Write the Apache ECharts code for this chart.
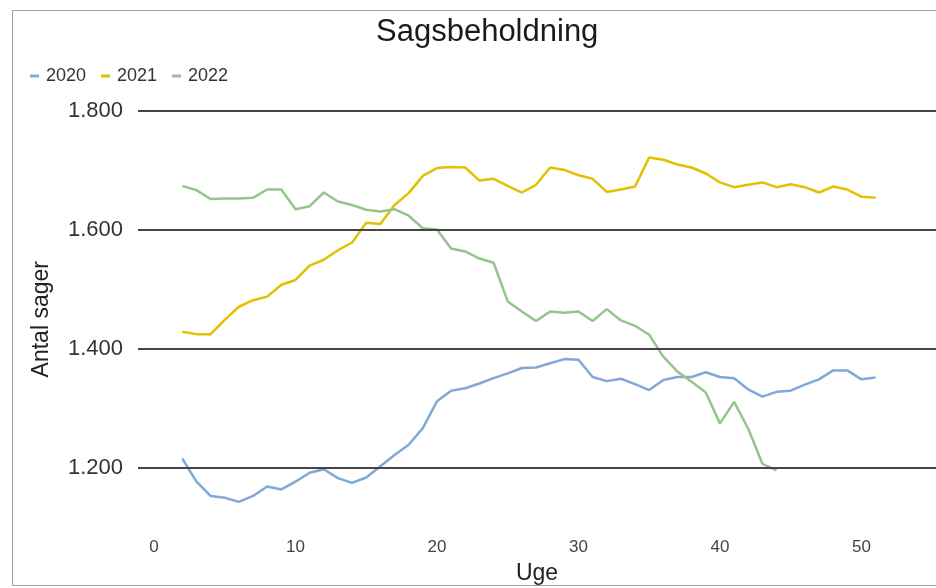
<!DOCTYPE html>
<html>
<head>
<meta charset="utf-8">
<script src="https://cdn.jsdelivr.net/npm/echarts@6/dist/echarts.min.js"></script>
<style>html,body{margin:0;padding:0;background:#fff}#c{width:936px;height:588px}</style>
</head>
<body>
<div id="c"></div>
<script>
const weeks = [2,3,4,5,6,7,8,9,10,11,12,13,14,15,16,17,18,19,20,21,22,23,24,25,26,27,28,29,30,31,32,33,34,35,36,37,38,39,40,41,42,43,44,45,46,47,48,49,50,51];
const v2020 = [1216,1177,1153,1150,1143,1153,1169,1164,1177,1192,1198,1183,1175,1184,1203,1222,1239,1267,1312,1330,1334,1342,1351,1359,1368,1369,1376,1383,1382,1353,1346,1350,1341,1331,1348,1353,1353,1361,1353,1351,1332,1320,1328,1330,1340,1349,1364,1364,1349,1352];
const v2021 = [1429,1425,1425,1449,1471,1482,1488,1508,1516,1540,1550,1566,1579,1612,1610,1642,1662,1691,1704,1706,1705,1683,1686,1674,1663,1676,1705,1701,1692,1686,1664,1668,1673,1722,1718,1710,1705,1695,1680,1672,1676,1680,1672,1677,1672,1663,1673,1668,1656,1654];
const v2022 = [1674,1667,1652,1653,1653,1654,1668,1668,1635,1640,1663,1648,1642,1634,1631,1635,1624,1603,1601,1569,1564,1552,1545,1480,1463,1447,1463,1461,1463,1447,1467,1448,1439,1424,1387,1362,1345,1327,1275,1311,1266,1207,1196];
const yTicks = [1200,1400,1600,1800];
const xTicks = [0,10,20,30,40,50];
const seriesNames = ['2020','2021','2022'];
const colors = ['#82a8d8','#e3c000','#96c48e'];

const pair = vals => vals.map((v,i)=>[weeks[i], v]);
const font = 'Liberation Sans, Arial, sans-serif';

const chart = echarts.init(document.getElementById('c'));
chart.setOption({
  animation:false,
  backgroundColor:'#fff',
  textStyle:{fontFamily:font},
  title:{text:'Sagsbeholdning', left:376, top:17, padding:0,
    textStyle:{fontSize:31, fontWeight:'normal', color:'#1a1a1a', fontFamily:font}},
  legend:{left:30, top:67, padding:0, itemWidth:9, itemHeight:3, itemGap:15, icon:'rect',
    data:seriesNames, textStyle:{fontSize:18, color:'#333', padding:[0,0,0,2]}},
  grid:{left:138, right:0, top:111, bottom:60.5, outerBoundsMode:'none', containLabel:false},
  xAxis:{type:'value', min:-1.13, max:55.27,
    name:'Uge', nameLocation:'middle', nameGap:35,
    nameTextStyle:{fontSize:23, color:'#222'},
    axisLine:{show:false}, axisTick:{show:false}, splitLine:{show:false},
    axisLabel:{customValues:xTicks, fontSize:17, color:'#444', margin:11}},
  yAxis:{type:'value', min:1100, max:1800, interval:100,
    name:'Antal sager', nameLocation:'middle', nameGap:85, nameRotate:90,
    nameTextStyle:{fontSize:23, color:'#222'},
    axisLine:{show:false}, axisTick:{show:false}, splitLine:{show:false},
    axisLabel:{fontSize:22, color:'#333', margin:15,
      formatter: v => yTicks.includes(v) ? (v/1000).toFixed(3) : ''}},
  graphic:[{type:'rect', shape:{x:12.5, y:10.5, width:1000, height:575},
    style:{fill:'none', stroke:'#a0a0a0', lineWidth:1}, silent:true, z:-1}],
  series:[
    {type:'line', name:'_grid', data:[], z:1, silent:true,
      markLine:{silent:true, symbol:'none', label:{show:false},
        lineStyle:{color:'#454545', width:1.8, type:'solid'},
        data: yTicks.map(v=>({yAxis:v}))}},
    {type:'line', name:seriesNames[0], data:pair(v2020), showSymbol:false, symbol:'none',
      lineStyle:{width:2.5, color:colors[0]}, itemStyle:{color:colors[0]}, z:3},
    {type:'line', name:seriesNames[1], data:pair(v2021), showSymbol:false, symbol:'none',
      lineStyle:{width:2.5, color:colors[1]}, itemStyle:{color:colors[1]}, z:3},
    {type:'line', name:seriesNames[2], data:pair(v2022), showSymbol:false, symbol:'none',
      lineStyle:{width:2.5, color:colors[2]}, itemStyle:{color:colors[2]}, z:3}
  ]
});
</script>
</body>
</html>
